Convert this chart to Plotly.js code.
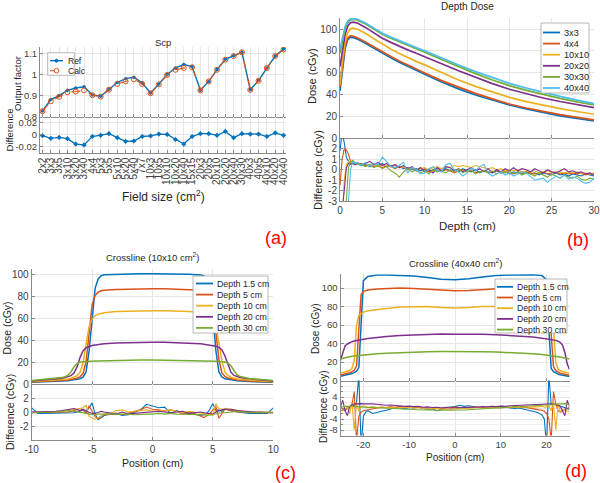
<!DOCTYPE html>
<html>
<head>
<meta charset="utf-8">
<script src="https://cdn.plot.ly/plotly-3.0.1.min.js"></script>
<style>
  html, body { margin: 0; padding: 0; background: #fff; }
  #fig { width: 600px; height: 483px; }
</style>
</head>
<body>
<div id="fig"></div>
<script>
// ---------- (a) output factors ----------
const fieldSizes = ['2x2','3x3','3x5','3x10','3x20','3x40','4x4','5x3','5x5','5x10','5x20','5x40','7x7','10x3','10x5',
  '10x10','10x20','10x40','15x15','20x3','20x5','20x10','20x20','20x40','30x30','40x3','40x5','40x10','40x20','40x40'];
const scpRef = [0.827,0.881,0.900,0.925,0.936,0.942,0.903,0.897,0.930,0.962,0.980,0.987,0.959,0.912,0.955,
  1.000,1.031,1.047,1.037,0.925,0.967,1.023,1.072,1.089,1.105,0.928,0.972,1.030,1.087,1.120];
const scpCalc = [0.826,0.873,0.894,0.916,0.919,0.925,0.902,0.895,0.928,0.955,0.967,0.977,0.955,0.911,0.953,
  0.998,1.022,1.031,1.034,0.925,0.967,1.022,1.070,1.087,1.105,0.927,0.970,1.030,1.087,1.118];
const scpDiff = [-0.0017,-0.006,-0.0045,-0.0067,-0.0156,-0.017,-0.003,-0.001,0.0017,-0.005,-0.011,-0.0105,-0.003,-0.002,0.001,
  0.0005,-0.008,-0.0156,-0.003,0.0017,0.0017,-0.001,0.0055,-0.005,0.0017,0.001,0.001,-0.003,0.003,-0.001];

// ---------- (b) depth dose ----------
const pddLabels = ['3x3','4x4','10x10','20x20','30x30','40x40'];
const depthCm = [0,0.3,0.6,0.9,1.2,1.5,2,3,4,5,6,7,8,9,10,12,14,16,18,20,22,24,26,28,30];
const pdd3x3   = [43.4,65,82,90,92.5,92.2,91,87,82.4,77.9,73.6,69.5,65.7,62,58.6,51.6,45.2,39.6,34.8,30.5,26.8,23.5,20.6,18.1,15.9];
const pdd4x4   = [47,68,84,91.5,93.7,93.5,92.3,88.2,83.6,79,74.8,70.8,67,63.3,59.8,52.8,46.6,41.1,36.1,31.4,27.7,24.5,21.6,19.1,16.8];
const pdd10x10 = [49,72,88,96.5,100,100.8,100,96.2,91.1,86.1,81.7,77.7,73.9,70.4,67.2,60,53.4,47.5,42.2,37.4,33.6,30.2,27.2,24.5,22];
const pdd20x20 = [65.6,82,95,102.5,105.5,106.3,105.7,101.5,96.5,91.6,87.8,84.2,80.9,77.8,74.8,68.2,61.8,55.6,50,44.9,40.6,36.9,33.7,30.8,28.1];
const pdd30x30 = [77.9,90,100,105.5,108,108.7,108.3,104.5,99.9,95.3,91.7,88.3,85,81.8,78.8,72.1,65.5,59.2,53.4,48.2,43.8,40,36.6,33.4,30.5];
const pdd40x40 = [81.8,93,102,107,109.2,109.6,109.2,105.5,100.9,96.2,92.6,89.2,86,83,80,73.4,67.1,61,55.3,50.3,45.9,42,38.4,35,31.8];

const depthDiffCm = [0,0.25,0.5,0.75,1,1.25,1.5,1.75,2,
  2.5,3,3.5,4,4.5,5,5.5,6,6.5,7,7.5,8,8.5,9,9.5,10,10.5,11,11.5,12,12.5,13,13.5,14,14.5,15,15.5,16,16.5,17,
  17.5,18,18.5,19,19.5,20,20.5,21,21.5,22,22.5,23,23.5,24,24.5,25,25.5,26,26.5,27,27.5,28,28.5,29,29.5,30];
const pddDiff3x3 = [1.8,3.6,2.6,1.2,0.8,0.6,0.7,0.5,0.6,
  0.4,0.5,0.3,0.5,0.4,0.6,0.3,0.4,0.2,0.3, 0.1,0.2,0,0.1,-0.1,0.1,-0.2,0,0.2,-0.1,
  0.1,-0.1,0,-0.2,0.1,-0.1,-0.2,0,-0.3,-0.1, -0.2,-0.3,-0.1,-0.3,-0.2,-0.4,-0.2,-0.3,-0.4,-0.2,
  -0.4,-0.3,-0.5,-0.3,-0.4,-0.5,-0.3,-0.5,-0.4,-0.6, -0.4,-0.5,-0.6,-0.4,-0.5,-0.6];
const pddDiff4x4 = [-1.5,1.0,2.0,1.9,1.5,0.8,0.6,0.7,0.5,
  0.6,0.4,0.5,0.3,0.4,0.2,0.4,0.3,0.1,0.3, 0.2,0,0.1,-0.1,0.2,0,-0.2,-0.1,0,-0.2,
  0,-0.1,-0.3,-0.1,0,-0.2,-0.1,-0.3,-0.2,-0.1, -0.3,-0.2,-0.1,-0.3,-0.2,-0.3,-0.4,-0.2,-0.3,-0.2,
  -0.3,-0.4,-0.3,-0.2,-0.4,-0.3,-0.2,-0.4,-0.3,-0.4, -0.3,-0.4,-0.3,-0.5,-0.4,-0.4];
const pddDiff10x10 = [-6,-5,-1,0.5,0.8,0.7,0.7,0.6,0.6,
  0.5,0.6,0.4,0.5,0.3,0.5,0.4,0.3,0.4,0.2, 0.3,0.1,0.2,0,0.1,0.2,0,0.2,0.3,0.1,
  0.3,0.2,0.4,0.3,0.4,0.3,0.2,0.4,0.3,0.2, 0.1,0.2,0,0.1,-0.1,0,-0.1,0,-0.2,-0.1,
  -0.2,-0.1,-0.3,-0.2,-0.1,-0.2,-0.3,-0.2,-0.3,-0.2, -0.3,-0.2,-0.4,-0.3,-0.4,-0.3];
const pddDiff20x20 = [-5,-4,-2,0.2,0.6,0.5,0.6,0.5,0.7,
  0.5,0.6,0.8,0.5,0.7,0.4,0.6,0.3,0.5,0.2, 0.4,0.1,0.3,-0.1,0.2,-0.2,0,-0.3,0.2,-0.1,
  0.3,0.2,-0.1,0.1,-0.2,0,0.2,-0.1,0.1,-0.2, 0.1,-0.3,0,-0.2,0.1,-0.1,0.2,-0.1,0.1,0,
  -0.2,0.1,-0.1,-0.3,0,-0.2,-0.3,-0.1,0.1,-0.2, -0.1,-0.3,-0.2,-0.4,-0.3,-0.5];
const pddDiff30x30 = [-8,-8,-6,-3,0.2,0.7,0.9,0.7,0.6,
  0.5,0.3,0.5,0.2,0.4,0.1,0.3,-0.1,-0.3,-0.7, -0.2,0.1,-0.2,0,-0.3,-0.1,-0.4,0,-0.2,-0.1,
  -0.3,0,-0.2,0.1,-0.3,-0.1,0,-0.4,-0.2,-0.1, -0.3,-0.1,-0.4,-0.2,-0.3,-0.1,-0.4,-0.2,-0.5,-0.3,
  -0.4,-0.6,-0.3,-0.5,-0.7,-0.4,-0.6,-0.8,-0.5,-0.7, -0.8,-0.6,-0.9,-1.0,-0.8,-0.9];
const pddDiff40x40 = [-8,-8,-8,-6,-2.5,0,0.8,0.6,0.7,
  0.4,0.7,0.3,0.6,0.5,1.2,0.8,0.3,0.2,0.4, 0.7,-0.3,0.2,0,-0.4,-0.3,0.1,0.3,-0.1,-0.2,
  0.5,0.6,0,-0.2,-0.6,-0.3,0.2,-0.1,0.3,0.5, -0.3,-0.6,-0.4,-0.2,-0.5,-0.3,-0.6,-0.4,-0.2,-0.3,
  -0.7,-1.0,-0.9,-0.8,-1.2,-0.9,-0.6,-0.8,-0.5,-0.9, -0.7,-0.8,-1.1,-1.3,-1.2,-0.8];

// ---------- (c) crossline 10x10 ----------
const depthLabels = ['Depth 1.5 cm','Depth 5 cm','Depth 10 cm','Depth 20 cm','Depth 30 cm'];
const posC = [-10,-9,-8,-7.5,-7.25,-7,-6.75,-6.5,-6.25,-6,-5.75,-5.5,-5.25,-5,-4.75,-4.5,-4.25,-4,
  -3,-2,-1,0,1,2,3,4,4.25,4.5,4.75,5,5.25,5.5,5.75,6,6.25,6.5,6.75,7,7.25,7.5,8,9,10];
const profC_d1p5 = [1.5,1.8,2.2, 2.5,2.7,3,3.3,3.6,4,4.8,6.2,11,30,62,87,95.5,98.5,99.3,
  99.8,100,100.2,100.3,100.2,100,99.8, 99.2,98.3,95.5,87,62,30,11,6.3,4.7,4,3.6,3.3,3,2.7,2.5, 2.2,1.8,1.5];
const profC_d5 = [1.8,2.2,2.7, 3,3.3,3.6,4,4.5,5.2,6.5,9.5,20,45,72,80.5,83.5,84.8,85.3,
  86,86.3,86.5,86.5,86.5,86.3,86, 85.3,84.6,83.2,80,71,47,22,10,6.8,5.4,4.6,4.1,3.7,3.4,3.1, 2.7,2.2,1.8];
const profC_d10 = [2.2,2.8,3.4, 3.9,4.2,4.6,5.2,6,7.5,10.5,19,36,52,59,62,63.5,64.3,64.8,
  65.8,66.3,66.6,66.7,66.6,66.4,66, 65,64.4,63.5,62,59.5,53,38,21,11,7.8,6.2,5.3,4.7,4.3,4, 3.5,2.8,2.2];
const profC_d20 = [2.8,3.6,4.6, 5.3,5.8,6.5,7.6,10,15.5,24,30,33,34.3,35,35.5,35.9,36.2,36.5,
  37.2,37.6,37.9,38,37.9,37.6,37.2, 36.5,36.2,35.9,35.5,35,34.4,33.3,31,25.5,17,10.5,7.8,6.6,5.9,5.4, 4.7,3.6,2.8];
const profC_d30 = [3.2,4,5, 5.8,6.5,8,11,15.5,18.5,19.8,20.2,20.5,20.7,20.8,20.9,21,21.1,21.2,
  21.5,21.7,21.8,21.9,21.8,21.7,21.5, 21.2,21.1,21,20.9,20.8,20.7,20.5,20.3,20,19,16.5,12,8.5,6.8,6, 5,4,3.2];

const posCDiff = [-10,-9.5,-9,-8.5,-8,-7.5,-7,-6.5,-6, -5.75,-5.5,-5.25,-5,-4.75,-4.5,-4.25,-4,
  -3.5,-3,-2.5,-2,-1.5,-1,-0.5,0,0.5,1,1.5,2,2.5,3,3.5, 4,4.25,4.5,4.75,5,5.25,5.5,5.75, 6,6.5,7,7.5,8,8.5,9,9.5,10];
const diffC_d1p5 = [0.6,-0.2,-0.2,-0.2,-0.2,-0.2,-0.1,-0.1,0.1, 0.3,0.2,0.6,1.3,-0.3,-1.1,-0.8,-0.5,
  -0.3,-0.2,-0.5,-0.4,0,0.3,1.1,0.9,0.6,0.7,-0.2,0.2,-0.1,-0.2,-0.3, -0.5,-0.4,-0.2,0.4,1.2,0.2,0.3,0.1,
  0.5,0.2,0,-0.1,-0.2,-0.2,-0.2,-0.2,0.6];
const diffC_d5 = [-0.1,-0.1,-0.1,0,0,0,0,0.2,0.5, 0.3,-0.2,0.9,0.1,-0.7,-1.0,-0.6,-0.4,
  -0.3,-0.3,-0.4,-0.2,0,0.3,0.7,0.4,0.3,0.1,0.3,0.1,-0.3,0,-0.2, -0.6,-0.8,-0.5,-0.2,0.3,0.8,-0.9,-0.3,
  0.4,0.2,0,0,-0.1,-0.1,-0.1,-0.1,-0.1];
const diffC_d10 = [0,0,0,0,0.1,0.1,0.2,0.3,0.5, 0.6,1.0,-0.6,-0.9,-1.1,-0.8,-0.5,-0.3,
  -0.2,0.2,0.3,0,0.1,0.2,0.3,0.1,0.1,0.2,0.3,0.1,-0.1,0.1,0, -0.1,-0.2,-0.3,-0.4,-0.5,1.2,0.5,0.4,
  0.5,0.4,0.2,0.1,0,0,0,0,0];
const diffC_d20 = [0,0,0,0,0.1,0.2,0.4,0.5,0.2, 0.4,0.1,-0.1,-0.2,-0.2,0,0.1,0,
  -0.1,-0.3,0,-0.3,-0.2,-0.1,0,0,0.1,0,-0.1,0,0.1,-0.2,-0.1, 0,-0.1,-0.2,-0.3,-0.3,0,0.2,0.3,
  0.4,0.4,0.2,0.1,0,0,0,-0.1,-0.1];
const diffC_d30 = [-0.1,-0.1,-0.1,-0.1,0,0.1,0.2,0.1,0, -0.1,-0.2,-0.3,-0.4,-0.4,-0.3,-0.3,-0.3,
  -0.3,-0.2,-0.3,-0.3,-0.4,-0.3,-0.3,-0.3,-0.2,-0.3,-0.2,-0.3,-0.3,-0.4,-0.3, -0.4,-0.4,-0.5,-0.4,-0.3,-0.2,-0.2,-0.1,
  -0.1,0,0.1,0,0,-0.1,-0.1,-0.1,-0.1];

// ---------- (d) crossline 40x40 ----------
const posD = [-25,-24.5,-24,-23.5,-23,-22.5,-22,-21.5,-21,-20.5,-20,-19,-17,-15,-12,-9,-6,-3,
  0,3,6,9,12,15,17,19,20,20.5,21,21.5,22,22.5,23,23.5,24,24.5,25];
const profD_d1p5 = [4.5,5,5.5,6,6.5,7.5,8.5,10,14,60,108, 112.5,114,114.2,113.8,113,111.5,109.5,
  109, 110,112,113.5,114,114.3,114.3,113.5, 109,55,13,9.5,8,7,6.3,5.8,5.3,4.8,4.3];
const profD_d5 = [6,6.5,7,7.5,8.5,9.5,11,16,55,93,96.5, 98,99,99.5,100,99.5,98.5,97.5,
  97, 97.5,98.5,99.5,100,100,99.5,98.5, 96.5,92,50,15,10.5,9,8,7.2,6.7,6.2,5.8];
const profD_d10 = [8,8.5,9,10,11,13,22,60,70.5,72.5,74, 75.5,77,78,79.5,80,80,79,
  78.5, 79,80,80,80,79,78,76, 74.5,73,71,58,20,12.5,10.5,9.5,8.8,8.3,7.8];
const profD_d20 = [22,31,37.5,39.5,41,42,42.8,43.4,43.9,44.3,44.7, 45.5,46.7,47.6,48.8,49.5,50,50.2,
  50, 50.2,50,49.5,48.8,47.8,47,45.8, 45.2,44.8,44.4,44,43.4,42.5,41,38,30,18,12];
const profD_d30 = [23.5,24.2,24.8,25.3,25.8,26.2,26.6,26.9,27.2,27.5,27.7, 28.2,29,29.6,30.3,30.8,31.2,31.4,
  31.5, 31.4,31.2,30.8,30.3,29.6,29,28.2, 27.7,27.4,27.1,26.7,26.3,25.8,25.3,24.8,24.3,23.8,23.3];

const posDDiff = [-25,-24.5,-24,-23.5,-23,-22.5,-22,-21.5,-21,-20.5,-20,-19.5,-19,
  -18,-17,-16,-15,-14,-13,-12,-11,-10,-9,-8,-7,-6,-5,-4,-3,-2,-1,0,1,2,3,4,5,6,7,8,9,10,11,12,13,14,15,16,17,18,
  19,19.5,20,20.5,21,21.5,22,22.5,23,23.5,24,24.5,25];
const diffD_d1p5 = [0.5,-0.5,-1,0,0.5,0.8,1,2,12,-14,-3,-1.5,-1,
  -2,-1.5,-1.2,-0.8,-0.3,0.2,0,-0.3,0.2,0,0.3,-0.2,-0.4,-0.3,-1,-0.6,0.2,0.4,
  0.5,
  1.0,0.6,0.8,0.4,0.2,0.5,0.3,0.6,0.2,0.1,0.4,0,-0.2,0,-0.3,-0.8,-1.2,-1.6,
  -2.5,-4,-14,12,1.2,1.5,1.3,1,0.6,0.3,0,-0.3,-0.5];
const diffD_d5 = [-1,-0.8,-0.5,0,0.5,1,6,-12,-3,-1.5,-1,-0.8,-0.6,
  -0.3,0,0.3,0.2,0.5,0.3,0.6,0.4,0.2,0.5,0.3,0,0.2,-0.3,0,-0.2,0.3,0.2,
  0.4,
  0.2,-0.1,0.3,0.2,0.4,0.1,0.3,0.5,0.2,0.6,0.4,0.3,0.5,0.2,0.4,0,-0.3,-0.6,
  -0.8,-1.2,-2,-4,-12,6,1.5,-1,-1.5,-1,-0.5,0,0.3];
const diffD_d10 = [-1.2,-1,-0.5,0.5,-2,2,-8,2,-1.2,0.5,0.8,0.5,0.3,
  0.5,0.2,0.4,0.1,0.3,0,0.2,0.1,0.3,0,0.2,-0.2,0,-0.3,-0.1,-0.4,-0.3,-0.5,
  -0.3,
  -0.2,0,-0.2,0.1,0.3,0,0.2,0.4,0.2,0,0.3,0.1,0.4,0.2,0.5,0.3,0.5,0.4,
  0.6,0.3,0.5,0.8,-1,2.5,-8,1.5,-1.5,-0.5,-1,-1.2,-1.3];
const diffD_d20 = [0.5,2.8,-1,-2.8,0.5,1.2,1.5,1.6,1.5,1.6,1.5,1.6,1.5,
  1.5,1.3,1.2,1.0,1.1,0.9,0.8,0.6,0.7,0.5,0.6,0.3,0.4,0.2,0.3,0.1,0.2,0,
  0.2,
  0.1,0.3,0.2,0.4,0.3,0.5,0.4,0.6,0.5,0.7,0.6,0.8,0.9,1.0,1.1,1.2,1.3,1.4,
  1.5,1.4,1.5,1.6,1.5,1.4,1.2,1.0,0.5,-1.5,-2.8,2.8,0.5];
const diffD_d30 = [0.3,0.5,0.6,0.6,0.5,0.6,0.5,0.5,0.4,0.4,0.3,0.3,0.2,
  0.2,0.1,0,-0.1,-0.2,-0.3,-0.4,-0.5,-0.5,-0.6,-0.6,-0.7,-0.7,-0.8,-0.7,-0.8,-0.8,-0.7,
  -0.8,
  -0.7,-0.7,-0.6,-0.6,-0.5,-0.5,-0.4,-0.3,-0.2,-0.1,0,0.1,0.2,0.3,0.4,0.5,0.6,0.7,
  0.8,0.9,1.0,1.1,1.2,1.3,1.4,1.5,1.6,1.6,1.6,1.5,1.3];

// ---------- styling ----------
const COLORS = ['#0072BD','#D95319','#EDB120','#7E2F8E','#77AC30','#4DBEEE'];
const FONT = 'Liberation Sans, Arial, Helvetica, sans-serif';
const TEXT = '#262626';
const W = 600, H = 483;
const fx = x => x / W;
const fy = y => 1 - y / H;

function ax(extra, tickSize) {
  return Object.assign({
    showline: true, linecolor: '#8a8a8a', linewidth: 1, mirror: false,
    showgrid: true, gridcolor: '#e6e6e6', gridwidth: 1, zeroline: false,
    ticks: 'inside', ticklen: 3, tickcolor: '#8a8a8a',
    tickfont: { family: FONT, size: tickSize || 10, color: '#404040' },
    fixedrange: true
  }, extra);
}

const traces = [];

// (a)
traces.push({ type: 'scatter', mode: 'lines+markers', x: fieldSizes, y: scpRef, xaxis: 'x', yaxis: 'y',
  line: { color: COLORS[0], width: 1.4 }, marker: { symbol: 'circle', size: 3.5, color: COLORS[0] } });
traces.push({ type: 'scatter', mode: 'lines+markers', x: fieldSizes, y: scpCalc, xaxis: 'x', yaxis: 'y',
  line: { color: COLORS[1], width: 1.1, dash: 'dash' },
  marker: { symbol: 'circle-open', size: 5, color: COLORS[1], line: { width: 1 } } });
traces.push({ type: 'scatter', mode: 'lines+markers', x: fieldSizes, y: scpDiff, xaxis: 'x2', yaxis: 'y2',
  line: { color: COLORS[0], width: 1.3 }, marker: { symbol: 'diamond', size: 4, color: COLORS[0] } });

// (b)
const pddSeries = [pdd3x3, pdd4x4, pdd10x10, pdd20x20, pdd30x30, pdd40x40];
const pddDiffSeries = [pddDiff3x3, pddDiff4x4, pddDiff10x10, pddDiff20x20, pddDiff30x30, pddDiff40x40];
pddSeries.forEach((s, i) => traces.push({ type: 'scatter', mode: 'lines', name: pddLabels[i],
  x: depthCm, y: s, xaxis: 'x3', yaxis: 'y3', line: { color: COLORS[i], width: 1.7 } }));
pddDiffSeries.forEach((s, i) => traces.push({ type: 'scatter', mode: 'lines', name: pddLabels[i],
  x: depthDiffCm, y: s, xaxis: 'x4', yaxis: 'y4', line: { color: COLORS[i], width: 1.1 } }));

// (c)
const profC = [profC_d1p5, profC_d5, profC_d10, profC_d20, profC_d30];
const diffC = [diffC_d1p5, diffC_d5, diffC_d10, diffC_d20, diffC_d30];
profC.forEach((s, i) => traces.push({ type: 'scatter', mode: 'lines', name: depthLabels[i],
  x: posC, y: s, xaxis: 'x5', yaxis: 'y5', line: { color: COLORS[i], width: 1.5 } }));
diffC.forEach((s, i) => traces.push({ type: 'scatter', mode: 'lines', name: depthLabels[i],
  x: posCDiff, y: s, xaxis: 'x6', yaxis: 'y6', line: { color: COLORS[i], width: 1.1 } }));

// (d)
const profD = [profD_d1p5, profD_d5, profD_d10, profD_d20, profD_d30];
const diffD = [diffD_d1p5, diffD_d5, diffD_d10, diffD_d20, diffD_d30];
profD.forEach((s, i) => traces.push({ type: 'scatter', mode: 'lines', name: depthLabels[i],
  x: posD, y: s, xaxis: 'x7', yaxis: 'y7', line: { color: COLORS[i], width: 1.5 } }));
diffD.forEach((s, i) => traces.push({ type: 'scatter', mode: 'lines', name: depthLabels[i],
  x: posDDiff, y: s, xaxis: 'x8', yaxis: 'y8', line: { color: COLORS[i], width: 1.1 } }));

// ---------- axes ----------
const layout = {
  width: W, height: H, margin: { l: 0, r: 0, t: 0, b: 0 },
  paper_bgcolor: '#fff', plot_bgcolor: '#fff', showlegend: false,
  font: { family: FONT, color: TEXT },

  xaxis: ax({ domain: [fx(40), fx(286)], anchor: 'y', type: 'category', categoryorder: 'array',
    categoryarray: fieldSizes, range: [-0.3, 29.3], tickmode: 'array', tickvals: fieldSizes, showticklabels: false }),
  yaxis: ax({ domain: [fy(116.7), fy(47)], anchor: 'x', range: [0.8, 1.13],
    tickmode: 'array', tickvals: [0.8, 0.9, 1, 1.1], ticktext: ['0.8', '0.9', '1', '1.1'] }, 9.5),
  xaxis2: ax({ domain: [fx(40), fx(286)], anchor: 'y2', type: 'category', categoryorder: 'array',
    categoryarray: fieldSizes, range: [-0.3, 29.3], tickmode: 'array', tickvals: fieldSizes, ticktext: fieldSizes,
    tickangle: -90 }, 10),
  yaxis2: ax({ domain: [fy(152.7), fy(116.7)], anchor: 'x2', range: [-0.03, 0.03],
    tickmode: 'array', tickvals: [-0.02, 0, 0.02], ticktext: ['-0.02', '0', '0.02'] }, 9.5),

  xaxis3: ax({ domain: [fx(340), fx(594)], anchor: 'y3', range: [0, 30], tickmode: 'array',
    tickvals: [0, 5, 10, 15, 20, 25, 30], showticklabels: false }),
  yaxis3: ax({ domain: [fy(138.3), fy(18.1)], anchor: 'x3', range: [0, 110], tickmode: 'array',
    tickvals: [0, 20, 40, 60, 80, 100] }),
  xaxis4: ax({ domain: [fx(340), fx(594)], anchor: 'y4', range: [0, 30], tickmode: 'array',
    tickvals: [0, 5, 10, 15, 20, 25, 30] }),
  yaxis4: ax({ domain: [fy(201.2), fy(138.3)], anchor: 'x4', range: [-3, 3], tickmode: 'array',
    tickvals: [-3, -2, -1, 0, 1, 2], ticktext: ['-3', '-2', '-1', '0', '1', '2'] }),

  xaxis5: ax({ domain: [fx(31.7), fx(273.3)], anchor: 'y5', range: [-10, 10], tickmode: 'array',
    tickvals: [-10, -5, 0, 5, 10], showticklabels: false }),
  yaxis5: ax({ domain: [fy(384), fy(268.5)], anchor: 'x5', range: [0, 105], tickmode: 'array',
    tickvals: [0, 20, 40, 60, 80, 100] }),
  xaxis6: ax({ domain: [fx(31.7), fx(273.3)], anchor: 'y6', range: [-10, 10], tickmode: 'array',
    tickvals: [-10, -5, 0, 5, 10], ticktext: ['-10', '-5', '0', '5', '10'] }),
  yaxis6: ax({ domain: [fy(440), fy(384)], anchor: 'x6', range: [-4, 4], tickmode: 'array',
    tickvals: [-2, 0, 2], ticktext: ['-2', '0', '2'] }),

  xaxis7: ax({ domain: [fx(340.5), fx(569.5)], anchor: 'y7', range: [-25, 25], tickmode: 'array',
    tickvals: [-20, -10, 0, 10, 20], showticklabels: false }, 9.5),
  yaxis7: ax({ domain: [fy(380.5), fy(274.2)], anchor: 'x7', range: [0, 115], tickmode: 'array',
    tickvals: [0, 20, 40, 60, 80, 100] }, 9.5),
  xaxis8: ax({ domain: [fx(340.5), fx(569.5)], anchor: 'y8', range: [-25, 25], tickmode: 'array',
    tickvals: [-20, -10, 0, 10, 20], ticktext: ['-20', '-10', '0', '10', '20'] }, 9.5),
  yaxis8: ax({ domain: [fy(435.5), fy(380.5)], anchor: 'x8', range: [-10, 10], tickmode: 'array',
    tickvals: [-8, -4, 0, 4], ticktext: ['-8', '-4', '0', '4'],
    minor: { tickmode: 'array', tickvals: [-10, -6, -2, 2, 6, 8, 10], showgrid: true, gridcolor: '#efefef',
      ticks: 'inside', ticklen: 2, tickcolor: '#8a8a8a' } }, 9.5)
};

// ---------- text ----------
function txt(text, x, y, size, opts) {
  return Object.assign({ text: text, x: fx(x), y: fy(y), xref: 'paper', yref: 'paper', showarrow: false,
    xanchor: 'center', yanchor: 'middle', font: { family: FONT, size: size, color: TEXT } }, opts || {});
}
const vert = { textangle: -90 };
const panelTag = { font: { family: FONT, size: 18, color: '#ff0000' } };

const annotations = [
  txt('Scp', 163, 43, 9.5),
  txt('Output factor', 17, 84, 9.5, vert),
  txt('Difference', 8.5, 130, 9.5, vert),
  txt('Field size (cm<sup>2</sup>)', 163, 196, 12),
  txt('(a)', 275.5, 237.5, 18, panelTag),

  txt('Depth Dose', 467, 6, 10),
  txt('Dose (cGy)', 312, 76, 11, vert),
  txt('Difference (cGy)', 318, 170, 11, vert),
  txt('Depth (cm)', 467, 226, 11.5),
  txt('(b)', 578, 240, 18, panelTag),

  txt('Crossline (10x10 cm<sup>2</sup>)', 152, 257, 9.5),
  txt('Dose (cGy)', 6.5, 328, 10.5, vert),
  txt('Difference (cGy)', 10, 412, 10.5, vert),
  txt('Position (cm)', 152, 463, 10.5),
  txt('(c)', 285, 472.5, 17, panelTag),

  txt('Crossline (40x40 cm<sup>2</sup>)', 455, 263, 9.5),
  txt('Dose (cGy)', 315, 329, 10, vert),
  txt('Difference (cGy)', 323, 407, 10, vert),
  txt('Position (cm)', 455, 457, 10),
  txt('(d)', 575.5, 471, 18, panelTag)
];

// ---------- legends (boxes, samples and labels in pixel positions) ----------
const shapes = [];
function legend(box, names, colors, firstY, stepY, lineX, textX, size, styles) {
  shapes.push({ type: 'rect', xref: 'paper', yref: 'paper', layer: 'above',
    x0: fx(box[0]), x1: fx(box[1]), y0: fy(box[3]), y1: fy(box[2]),
    line: { color: '#a6a6a6', width: 0.8 }, fillcolor: '#ffffff' });
  names.forEach((n, i) => {
    const y = firstY + i * stepY;
    const st = (styles && styles[i]) || {};
    shapes.push({ type: 'line', xref: 'paper', yref: 'paper', layer: 'above',
      x0: fx(lineX[0]), x1: fx(lineX[1]), y0: fy(y), y1: fy(y),
      line: { color: colors[i], width: st.width || 1.8, dash: st.dash || 'solid' } });
    if (st.marker) {
      const cx = (lineX[0] + lineX[1]) / 2, r = st.marker.r;
      shapes.push({ type: 'circle', xref: 'paper', yref: 'paper', layer: 'above',
        x0: fx(cx - r), x1: fx(cx + r), y0: fy(y + r), y1: fy(y - r),
        line: { color: colors[i], width: 1 }, fillcolor: st.marker.filled ? colors[i] : '#ffffff' });
    }
    annotations.push(txt(n, textX, y, size, { xanchor: 'left' }));
  });
}
legend([47.7, 74.3, 52.7, 75.3], ['Ref', 'Calc'], [COLORS[0], COLORS[1]], 60.7, 10, [50, 63], 65.5, 8.5,
  [{ width: 1.4, marker: { r: 1.5, filled: true } }, { width: 1.1, dash: 'dash', marker: { r: 2.3, filled: false } }]);
legend([541, 589, 23, 93], pddLabels, COLORS, 32.5, 11.1, [543, 560], 562, 9.2);
legend([193, 268, 276, 333], depthLabels, COLORS, 283.5, 11.1, [196, 213], 215, 8.8);
legend([495, 567, 279, 333], depthLabels, COLORS, 286.8, 10.7, [497, 513], 515, 8.7);

layout.annotations = annotations;
layout.shapes = shapes;

Plotly.newPlot('fig', traces, layout, { staticPlot: true, displayModeBar: false });
</script>
</body>
</html>
